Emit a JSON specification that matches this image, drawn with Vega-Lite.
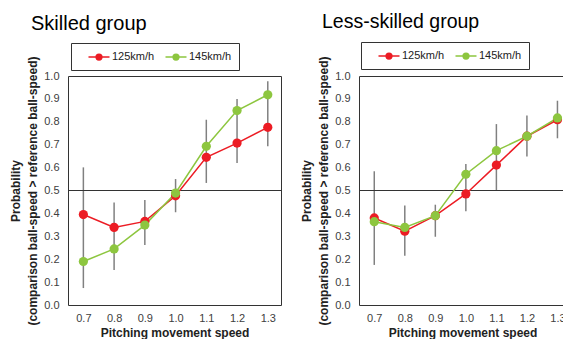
{
  "$schema": "https://vega.github.io/schema/vega-lite/v6.json",
  "padding": {"left": 9, "top": 11, "right": 0, "bottom": 0},
  "background": "white",
  "config": {
    "font": "Liberation Sans",
    "view": {"stroke": "#333", "strokeWidth": 1},
    "axis": {"grid": false, "ticks": false, "domain": false, "labelOverlap": false, "labelFontSize": 11, "labelColor": "#404040", "titleFontSize": 12, "titleFontWeight": "bold", "titleColor": "#222", "labelFont": "Liberation Sans", "titleFont": "Liberation Sans"},
    "axisX": {"format": ".1f", "labelPadding": 7, "titlePadding": 4},
    "axisY": {"format": ".1f", "labelPadding": 9, "titlePadding": 4, "titleLineHeight": 17},
    "legend": {"labelFont": "Liberation Sans"},
    "title": {"font": "Liberation Sans"}
  },
  "datasets": {
    "pts": [
      {"group": "Skilled", "speed": 0.7, "series": "125km/h", "p": 0.395},
      {"group": "Skilled", "speed": 0.8, "series": "125km/h", "p": 0.339},
      {"group": "Skilled", "speed": 0.9, "series": "125km/h", "p": 0.365},
      {"group": "Skilled", "speed": 1.0, "series": "125km/h", "p": 0.477},
      {"group": "Skilled", "speed": 1.1, "series": "125km/h", "p": 0.645},
      {"group": "Skilled", "speed": 1.2, "series": "125km/h", "p": 0.707},
      {"group": "Skilled", "speed": 1.3, "series": "125km/h", "p": 0.776},
      {"group": "Skilled", "speed": 0.7, "series": "145km/h", "p": 0.19},
      {"group": "Skilled", "speed": 0.8, "series": "145km/h", "p": 0.245},
      {"group": "Skilled", "speed": 0.9, "series": "145km/h", "p": 0.349},
      {"group": "Skilled", "speed": 1.0, "series": "145km/h", "p": 0.489},
      {"group": "Skilled", "speed": 1.1, "series": "145km/h", "p": 0.693},
      {"group": "Skilled", "speed": 1.2, "series": "145km/h", "p": 0.849},
      {"group": "Skilled", "speed": 1.3, "series": "145km/h", "p": 0.918},
      {"group": "Less", "speed": 0.7, "series": "125km/h", "p": 0.38},
      {"group": "Less", "speed": 0.8, "series": "125km/h", "p": 0.322},
      {"group": "Less", "speed": 0.9, "series": "125km/h", "p": 0.39},
      {"group": "Less", "speed": 1.0, "series": "125km/h", "p": 0.485},
      {"group": "Less", "speed": 1.1, "series": "125km/h", "p": 0.611},
      {"group": "Less", "speed": 1.2, "series": "125km/h", "p": 0.737},
      {"group": "Less", "speed": 1.3, "series": "125km/h", "p": 0.809},
      {"group": "Less", "speed": 0.7, "series": "145km/h", "p": 0.364},
      {"group": "Less", "speed": 0.8, "series": "145km/h", "p": 0.339},
      {"group": "Less", "speed": 0.9, "series": "145km/h", "p": 0.39},
      {"group": "Less", "speed": 1.0, "series": "145km/h", "p": 0.571},
      {"group": "Less", "speed": 1.1, "series": "145km/h", "p": 0.674},
      {"group": "Less", "speed": 1.2, "series": "145km/h", "p": 0.737},
      {"group": "Less", "speed": 1.3, "series": "145km/h", "p": 0.817}
    ],
    "err": [
      {"group": "Skilled", "speed": 0.7, "lo": 0.074, "hi": 0.601},
      {"group": "Skilled", "speed": 0.8, "lo": 0.153, "hi": 0.448},
      {"group": "Skilled", "speed": 0.9, "lo": 0.262, "hi": 0.459},
      {"group": "Skilled", "speed": 1.0, "lo": 0.405, "hi": 0.55},
      {"group": "Skilled", "speed": 1.1, "lo": 0.533, "hi": 0.809},
      {"group": "Skilled", "speed": 1.2, "lo": 0.62, "hi": 0.9},
      {"group": "Skilled", "speed": 1.3, "lo": 0.693, "hi": 0.977},
      {"group": "Less", "speed": 0.7, "lo": 0.175, "hi": 0.584},
      {"group": "Less", "speed": 0.8, "lo": 0.215, "hi": 0.434},
      {"group": "Less", "speed": 0.9, "lo": 0.298, "hi": 0.438},
      {"group": "Less", "speed": 1.0, "lo": 0.409, "hi": 0.616},
      {"group": "Less", "speed": 1.1, "lo": 0.499, "hi": 0.79},
      {"group": "Less", "speed": 1.2, "lo": 0.649, "hi": 0.827},
      {"group": "Less", "speed": 1.3, "lo": 0.728, "hi": 0.892}
    ]
  },
  "resolve": {"legend": {"color": "independent"}},
  "spacing": 18,
  "hconcat": [
    {
      "width": 213,
      "height": 229,
      "title": {"text": "Skilled group", "anchor": "start", "frame": "group", "dx": -37, "offset": 9, "fontSize": 20, "fontWeight": "normal", "color": "#000"},
      "encoding": {
        "x": {"field": "speed", "type": "quantitative", "scale": {"domain": [0.65, 1.343], "nice": false, "zero": false}, "axis": {"values": [0.7, 0.8, 0.9, 1.0, 1.1, 1.2, 1.3], "labelOverlap": false, "title": "Pitching movement speed"}}
      },
      "layer": [
        {
          "data": {"name": "err"},
          "transform": [{"filter": "datum.group === 'Skilled'"}],
          "mark": {"type": "rule", "color": "#808080", "strokeWidth": 1.5},
          "encoding": {
            "y": {"field": "lo", "type": "quantitative", "scale": {"domain": [0, 1], "nice": false}, "axis": {"values": [0, 0.1, 0.2, 0.3, 0.4, 0.5, 0.6, 0.7, 0.8, 0.9, 1.0], "labelOverlap": false, "title": ["Probability", "(comparison ball-speed > reference ball-speed)"]}},
            "y2": {"field": "hi"}
          }
        },
        {
          "data": {"values": [{}]},
          "mark": {"type": "rule", "color": "#333", "strokeWidth": 1},
          "encoding": {"x": {"value": 0}, "x2": {"value": 213}, "y": {"datum": 0.5, "type": "quantitative", "axis": {"values": [0, 0.1, 0.2, 0.3, 0.4, 0.5, 0.6, 0.7, 0.8, 0.9, 1.0], "labelOverlap": false, "title": ["Probability", "(comparison ball-speed > reference ball-speed)"]}}}
        },
        {
          "data": {"name": "pts"},
          "transform": [{"filter": "datum.group === 'Skilled'"}],
          "mark": {"type": "line", "strokeWidth": 1.5},
          "encoding": {
            "y": {"field": "p", "type": "quantitative", "axis": {"values": [0, 0.1, 0.2, 0.3, 0.4, 0.5, 0.6, 0.7, 0.8, 0.9, 1.0], "labelOverlap": false, "title": ["Probability", "(comparison ball-speed > reference ball-speed)"]}},
            "color": {"field": "series", "type": "nominal", "scale": {"domain": ["125km/h", "145km/h"], "range": ["#ec1c24", "#8dc63f"]},
              "legend": {"orient": "none", "legendX": 3, "legendY": -33, "direction": "horizontal", "title": null, "strokeColor": "#333", "padding": 7, "symbolType": "M-1.75,0H1.75M0.48,0A0.48,0.48,0,1,1,-0.48,0A0.48,0.48,0,1,1,0.48,0Z", "symbolSize": 144, "symbolStrokeWidth": 1.5, "labelFontSize": 11, "labelColor": "#222", "labelOffset": 6, "columnPadding": -16, "symbolOffset": 14}}
          }
        },
        {
          "data": {"name": "pts"},
          "transform": [{"filter": "datum.group === 'Skilled'"}],
          "mark": {"type": "point", "filled": true, "size": 85, "opacity": 1},
          "encoding": {
            "y": {"field": "p", "type": "quantitative", "axis": {"values": [0, 0.1, 0.2, 0.3, 0.4, 0.5, 0.6, 0.7, 0.8, 0.9, 1.0], "labelOverlap": false, "title": ["Probability", "(comparison ball-speed > reference ball-speed)"]}},
            "color": {"field": "series", "type": "nominal"}
          }
        }
      ]
    },
    {
      "width": 207,
      "height": 229,
      "title": {"text": "Less-skilled group", "anchor": "start", "frame": "group", "dx": -37, "offset": 9, "fontSize": 19.5, "fontWeight": "normal", "color": "#000"},
      "encoding": {
        "x": {"field": "speed", "type": "quantitative", "scale": {"domain": [0.65, 1.328], "nice": false, "zero": false}, "axis": {"values": [0.7, 0.8, 0.9, 1.0, 1.1, 1.2, 1.3], "labelOverlap": false, "title": "Pitching movement speed"}}
      },
      "layer": [
        {
          "data": {"name": "err"},
          "transform": [{"filter": "datum.group === 'Less'"}],
          "mark": {"type": "rule", "color": "#808080", "strokeWidth": 1.5},
          "encoding": {
            "y": {"field": "lo", "type": "quantitative", "scale": {"domain": [0, 1], "nice": false}, "axis": {"values": [0, 0.1, 0.2, 0.3, 0.4, 0.5, 0.6, 0.7, 0.8, 0.9, 1.0], "labelOverlap": false, "title": ["Probability", "(comparison ball-speed > reference ball-speed)"]}},
            "y2": {"field": "hi"}
          }
        },
        {
          "data": {"values": [{}]},
          "mark": {"type": "rule", "color": "#333", "strokeWidth": 1},
          "encoding": {"x": {"value": 0}, "x2": {"value": 207}, "y": {"datum": 0.5, "type": "quantitative", "axis": {"values": [0, 0.1, 0.2, 0.3, 0.4, 0.5, 0.6, 0.7, 0.8, 0.9, 1.0], "labelOverlap": false, "title": ["Probability", "(comparison ball-speed > reference ball-speed)"]}}}
        },
        {
          "data": {"name": "pts"},
          "transform": [{"filter": "datum.group === 'Less'"}],
          "mark": {"type": "line", "strokeWidth": 1.5},
          "encoding": {
            "y": {"field": "p", "type": "quantitative", "axis": {"values": [0, 0.1, 0.2, 0.3, 0.4, 0.5, 0.6, 0.7, 0.8, 0.9, 1.0], "labelOverlap": false, "title": ["Probability", "(comparison ball-speed > reference ball-speed)"]}},
            "color": {"field": "series", "type": "nominal",
              "legend": {"orient": "none", "legendX": 2, "legendY": -34, "direction": "horizontal", "title": null, "strokeColor": "#333", "padding": 7, "symbolType": "M-1.75,0H1.75M0.48,0A0.48,0.48,0,1,1,-0.48,0A0.48,0.48,0,1,1,0.48,0Z", "symbolSize": 144, "symbolStrokeWidth": 1.5, "labelFontSize": 11, "labelColor": "#222", "labelOffset": 6, "columnPadding": -16, "symbolOffset": 14}}
          }
        },
        {
          "data": {"name": "pts"},
          "transform": [{"filter": "datum.group === 'Less'"}],
          "mark": {"type": "point", "filled": true, "size": 85, "opacity": 1},
          "encoding": {
            "y": {"field": "p", "type": "quantitative", "axis": {"values": [0, 0.1, 0.2, 0.3, 0.4, 0.5, 0.6, 0.7, 0.8, 0.9, 1.0], "labelOverlap": false, "title": ["Probability", "(comparison ball-speed > reference ball-speed)"]}},
            "color": {"field": "series", "type": "nominal"}
          }
        }
      ]
    }
  ]
}
